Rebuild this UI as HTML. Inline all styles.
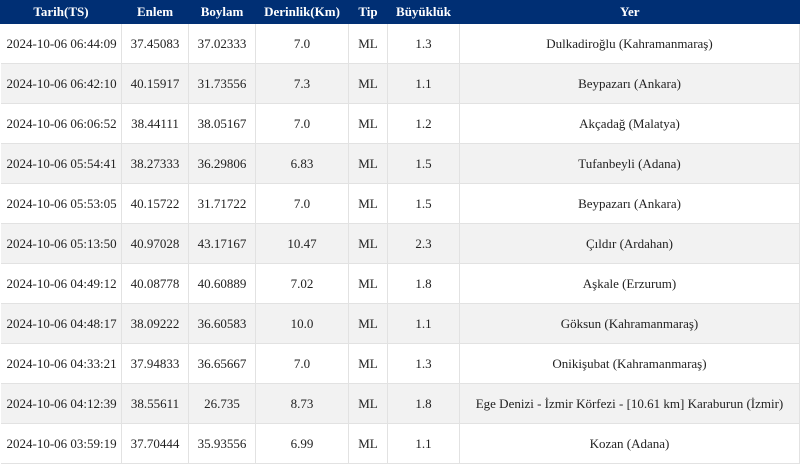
<!DOCTYPE html>
<html><head><meta charset="utf-8"><style>
body{margin:0;width:800px;height:461px;overflow:hidden;background:#fff;font-family:"Liberation Serif",serif;}
table{border-collapse:collapse;table-layout:fixed;width:800px;font-size:13px;color:#222;}
th{background:#002f74;color:#fff;font-weight:bold;height:24px;padding:0;text-align:center;border-left:1px solid #002f74;}
td{height:39px;padding:0;text-align:center;border:1px solid #e2e2e2;border-top:none;}
td:first-child{text-align:left;padding-left:6px;border-left:none;}
tr:nth-child(even) td{background:#f2f2f2;}
tbody tr{border-bottom:1px solid #e2e2e2;}
</style></head><body>
<table>
<colgroup><col style="width:121px"><col style="width:67px"><col style="width:67px"><col style="width:93px"><col style="width:39px"><col style="width:72px"><col></colgroup>
<thead><tr>
<th>Tarih(TS)</th>
<th>Enlem</th>
<th>Boylam</th>
<th>Derinlik(Km)</th>
<th>Tip</th>
<th>Büyüklük</th>
<th>Yer</th>
</tr></thead>
<tbody>
<tr><td>2024-10-06 06:44:09</td><td>37.45083</td><td>37.02333</td><td>7.0</td><td>ML</td><td>1.3</td><td>Dulkadiroğlu (Kahramanmaraş)</td></tr>
<tr><td>2024-10-06 06:42:10</td><td>40.15917</td><td>31.73556</td><td>7.3</td><td>ML</td><td>1.1</td><td>Beypazarı (Ankara)</td></tr>
<tr><td>2024-10-06 06:06:52</td><td>38.44111</td><td>38.05167</td><td>7.0</td><td>ML</td><td>1.2</td><td>Akçadağ (Malatya)</td></tr>
<tr><td>2024-10-06 05:54:41</td><td>38.27333</td><td>36.29806</td><td>6.83</td><td>ML</td><td>1.5</td><td>Tufanbeyli (Adana)</td></tr>
<tr><td>2024-10-06 05:53:05</td><td>40.15722</td><td>31.71722</td><td>7.0</td><td>ML</td><td>1.5</td><td>Beypazarı (Ankara)</td></tr>
<tr><td>2024-10-06 05:13:50</td><td>40.97028</td><td>43.17167</td><td>10.47</td><td>ML</td><td>2.3</td><td>Çıldır (Ardahan)</td></tr>
<tr><td>2024-10-06 04:49:12</td><td>40.08778</td><td>40.60889</td><td>7.02</td><td>ML</td><td>1.8</td><td>Aşkale (Erzurum)</td></tr>
<tr><td>2024-10-06 04:48:17</td><td>38.09222</td><td>36.60583</td><td>10.0</td><td>ML</td><td>1.1</td><td>Göksun (Kahramanmaraş)</td></tr>
<tr><td>2024-10-06 04:33:21</td><td>37.94833</td><td>36.65667</td><td>7.0</td><td>ML</td><td>1.3</td><td>Onikişubat (Kahramanmaraş)</td></tr>
<tr><td>2024-10-06 04:12:39</td><td>38.55611</td><td>26.735</td><td>8.73</td><td>ML</td><td>1.8</td><td>Ege Denizi - İzmir Körfezi - [10.61 km] Karaburun (İzmir)</td></tr>
<tr><td>2024-10-06 03:59:19</td><td>37.70444</td><td>35.93556</td><td>6.99</td><td>ML</td><td>1.1</td><td>Kozan (Adana)</td></tr>
</tbody></table>
</body></html>
